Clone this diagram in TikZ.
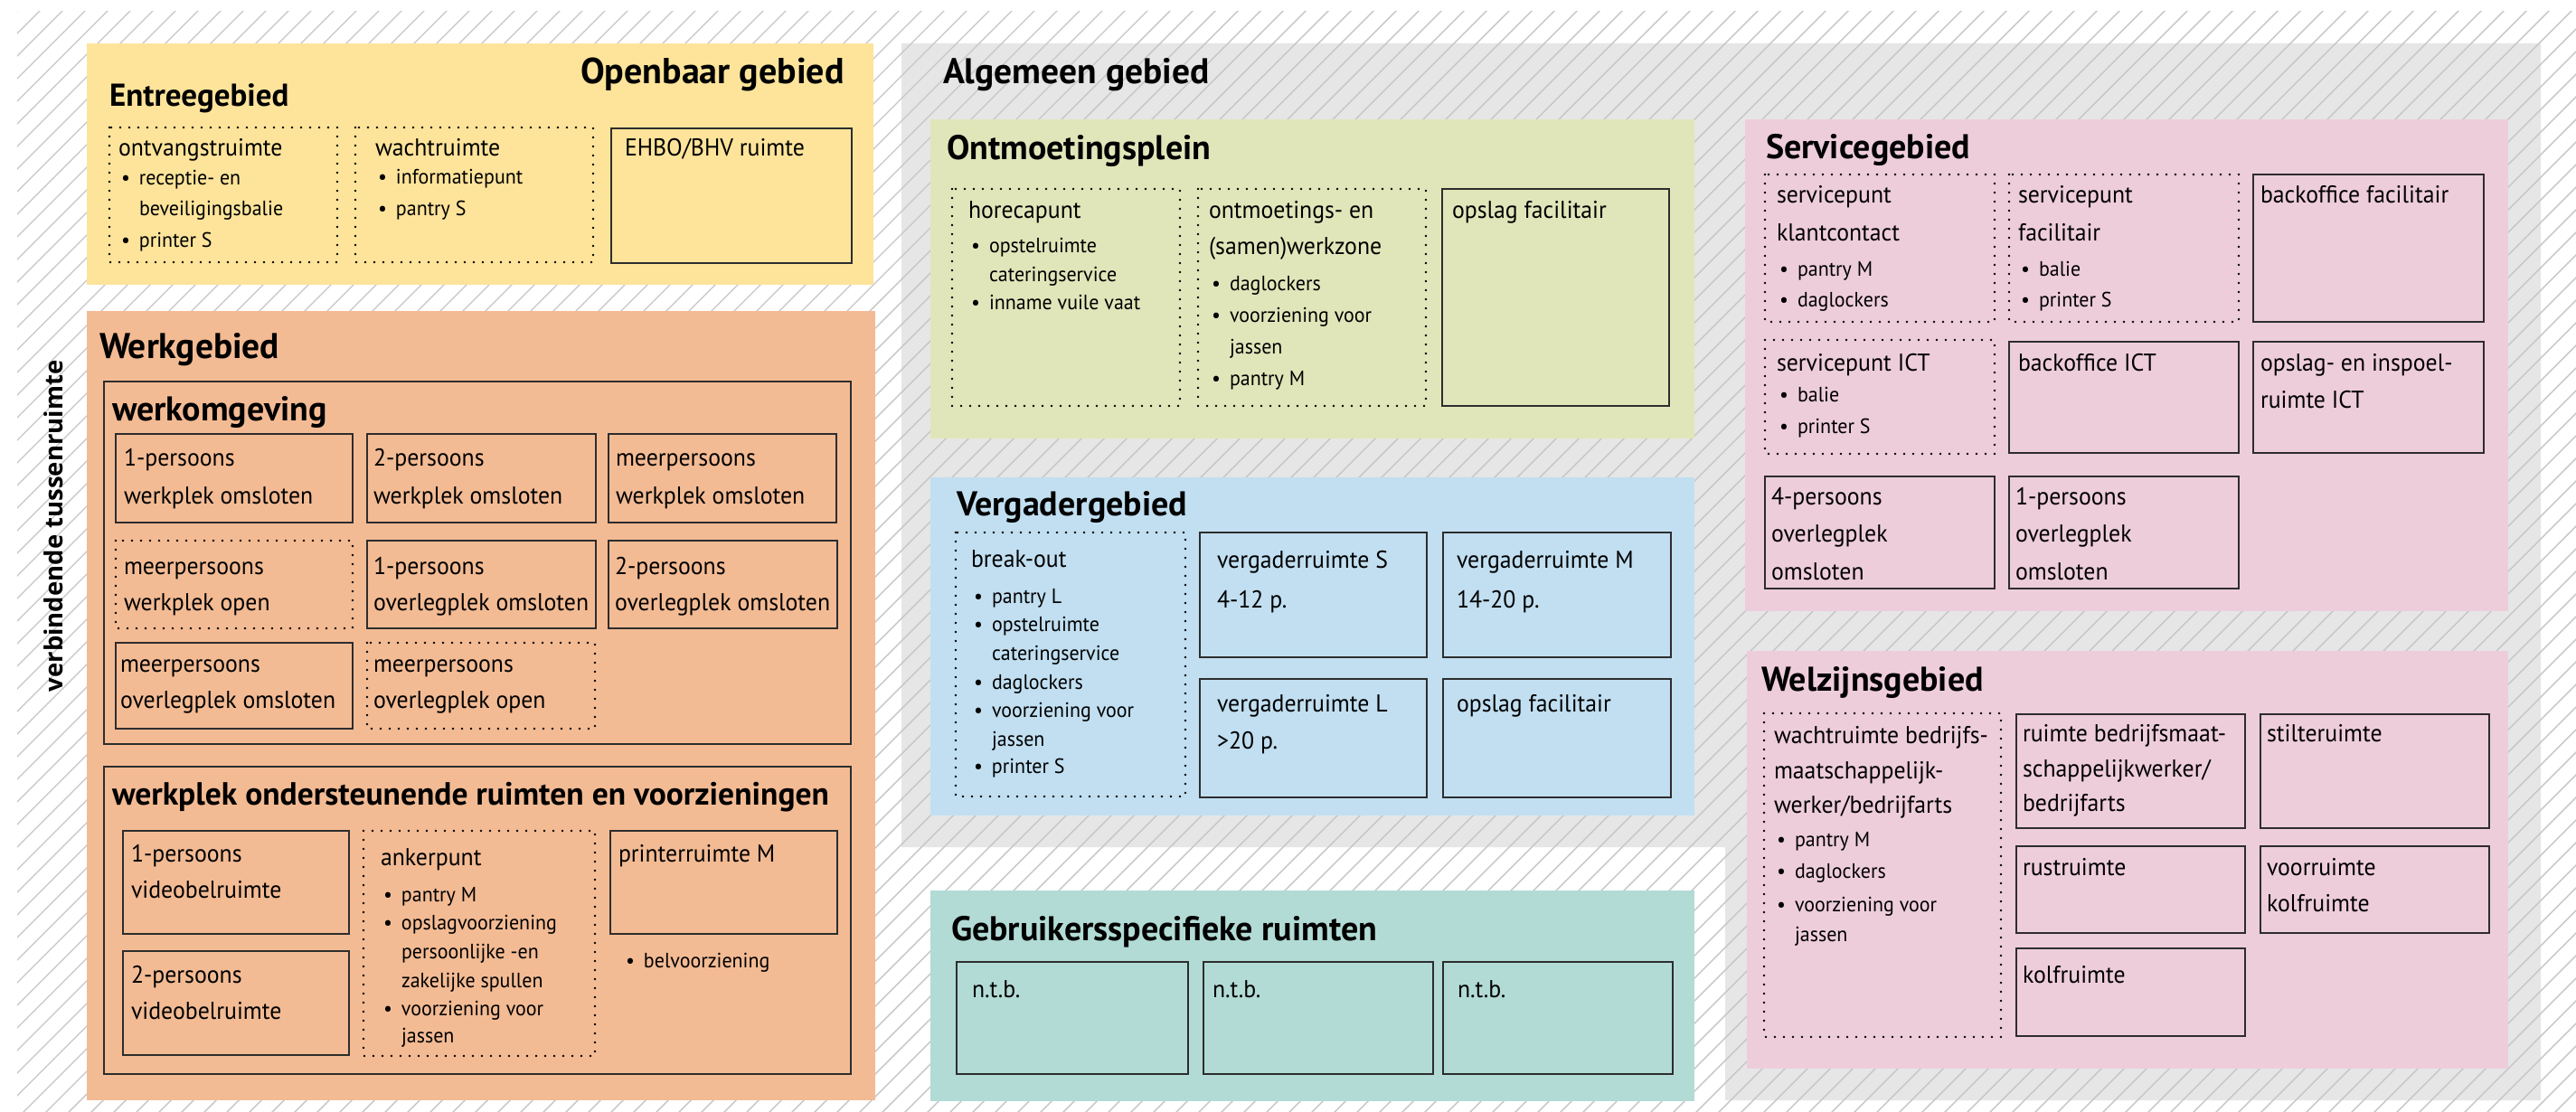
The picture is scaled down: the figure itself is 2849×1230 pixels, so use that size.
\documentclass[tikz,border=0pt]{standalone}
\usepackage{fontspec}
\setmainfont{PT Sans}
\newfontfamily\bodyfont{PT Sans}[FakeStretch=0.955]
\newfontfamily\labelfont{Open Sans}
\definecolor{cyel}{RGB}{253,228,154}
\definecolor{cora}{RGB}{243,187,148}
\definecolor{cgry}{RGB}{230,230,230}
\definecolor{cgrn}{RGB}{225,230,186}
\definecolor{cblu}{RGB}{193,223,241}
\definecolor{cteal}{RGB}{178,219,213}
\definecolor{cpink}{RGB}{238,205,219}
\definecolor{chatch}{RGB}{198,198,198}
\definecolor{cline}{RGB}{45,45,45}
\newcommand\Lines[1]{\vtop{\lineskiplimit=-1000pt\lineskip=0pt #1}}
\newcommand\Hd[2][41]{\baselineskip=#1pt\hbox{\bodyfont\fontsize{27}{27}\selectfont #2}}
\newcommand\Bu[2][33]{\baselineskip=#1pt\hbox{\bodyfont\fontsize{23}{23}\selectfont\kern3pt\hbox to 20pt{•\hss}#2}}
\newcommand\Bc[2][33]{\baselineskip=#1pt\hbox{\bodyfont\fontsize{23}{23}\selectfont\kern23pt #2}}
\tikzset{
  txt/.style={anchor=base west, inner sep=0pt, outer sep=0pt},
  hA/.style={txt, font=\bfseries\fontsize{39.5}{39.5}\selectfont},
  hB/.style={txt, font=\bfseries\fontsize{38}{38}\selectfont},
  hC/.style={txt, font=\bfseries\fontsize{35}{35}\selectfont},
  room/.style={draw=cline, line width=1.6pt},
  droom/.style={draw=black, line width=2.6pt, line cap=round, dash pattern=on 0pt off 10pt},
  hatch/.style={draw=chatch, line width=1.4pt},
}
\begin{document}
\begin{tikzpicture}[x=1pt,y=-1pt]
\useasboundingbox (0,0) rectangle (2849,1230);
\fill[white] (0,0) rectangle (2849,1230);
% grey general area (L-shape)
\fill[cgry] (997,48) -- (2810,48) -- (2810,1217) -- (1908,1217) -- (1908,937) -- (997,937) -- cycle;
% hatching
\begin{scope}
\clip (19,13) rectangle (2849,1230);
\foreach \c in {6,31,...,4131} \draw[hatch] (\c,0) -- ++(-1300,1300);
\end{scope}
% coloured panels
\fill[cyel] (96,48) rectangle (966,315);
\fill[cora] (96,344) rectangle (968,1217);
\fill[cgrn] (1029,132) rectangle (1874,485);
\fill[cblu] (1029,528) rectangle (1874,902);
\fill[cteal] (1029,985) rectangle (1874,1218);
\fill[cpink] (1930,132) rectangle (2774,676);
\fill[cpink] (1932,720) rectangle (2774,1182);

% side label
\node[anchor=base, rotate=90, inner sep=0pt, font=\labelfont\bfseries\fontsize{27.5}{27.5}\selectfont] (lbl) at (69,582) {verbindende tussenruimte};

% ---------- Openbaar gebied ----------
\node[anchor=base east, inner sep=0pt, font=\bfseries\fontsize{40}{40}\selectfont] (h-open) at (934,93) {Openbaar gebied};
\node[hC] (h-entree) at (121,118) {Entreegebied};
\draw[droom] (121,141) rectangle (373,290);
\draw[droom] (393,141) rectangle (656,290);
\draw[room] (676,142) rectangle (942,291);
\node[txt] (t-ontv) at (131,173) {\Lines{\Hd{ontvangstruimte}\Bu[32]{receptie- en}\Bc[34]{beveiligingsbalie}\Bu[35]{printer S}}};
\node[txt] (t-wacht) at (415,173) {\Lines{\Hd{wachtruimte}\Bu[31]{informatiepunt}\Bu[35]{pantry S}}};
\node[txt] (t-ehbo) at (691,173) {\Lines{\Hd{EHBO/BHV ruimte}}};

% ---------- Werkgebied ----------
\node[hA] (h-werk) at (110,397) {Werkgebied};
\draw[room] (115,422) rectangle (941,823);
\node[hB] (h-werkomg) at (124,465) {werkomgeving};
\draw[room] (128,480) rectangle (390,578);
\draw[room] (406,480) rectangle (659,578);
\draw[room] (673,480) rectangle (925,578);
\node[txt] (t-w1) at (137,515) {\Lines{\Hd{1-persoons}\Hd[42]{werkplek omsloten}}};
\node[txt] (t-w2) at (413,515) {\Lines{\Hd{2-persoons}\Hd[42]{werkplek omsloten}}};
\node[txt] (t-w3) at (681,515) {\Lines{\Hd{meerpersoons}\Hd[42]{werkplek omsloten}}};
\draw[droom] (128,598) rectangle (390,695);
\draw[room] (406,598) rectangle (659,695);
\draw[room] (673,598) rectangle (926,695);
\node[txt] (t-w4) at (137,635) {\Lines{\Hd{meerpersoons}\Hd[40]{werkplek open}}};
\node[txt] (t-w5) at (413,635) {\Lines{\Hd{1-persoons}\Hd[40]{overlegplek omsloten}}};
\node[txt] (t-w6) at (680,635) {\Lines{\Hd{2-persoons}\Hd[40]{overlegplek omsloten}}};
\draw[room] (128,711) rectangle (390,806);
\draw[droom] (406,711) rectangle (658,806);
\node[txt] (t-w7) at (133,743) {\Lines{\Hd{meerpersoons}\Hd[40]{overlegplek omsloten}}};
\node[txt] (t-w8) at (413,743) {\Lines{\Hd{meerpersoons}\Hd[40]{overlegplek open}}};

\draw[room] (115,848) rectangle (941,1188);
\node[txt, font=\bfseries\fontsize{35.5}{35.5}\selectfont] (h-onderst) at (124,890) {werkplek ondersteunende ruimten en voorzieningen};
\draw[room] (136,919) rectangle (386,1033);
\draw[room] (136,1052) rectangle (386,1167);
\draw[droom] (402,919) rectangle (658,1168);
\draw[room] (675,919) rectangle (926,1033);
\node[txt] (t-vb1) at (145,953) {\Lines{\Hd{1-persoons}\Hd[40]{videobelruimte}}};
\node[txt] (t-vb2) at (145,1087) {\Lines{\Hd{2-persoons}\Hd[40]{videobelruimte}}};
\node[txt] (t-anker) at (421,957) {\Lines{\Hd{ankerpunt}\Bu[40]{pantry M}\Bu[31]{opslagvoorziening}\Bc[32]{persoonlijke -en}\Bc[32]{zakelijke spullen}\Bu[31]{voorziening voor}\Bc[30]{jassen}}};
\node[txt] (t-printer) at (684,953) {\Lines{\Hd{printerruimte M}}};
\node[txt] (t-bel) at (689,1070) {\Lines{\Bu{belvoorziening}}};

% ---------- Algemeen gebied ----------
\node[txt, font=\bfseries\fontsize{39.5}{39.5}\selectfont] (h-alg) at (1043,93) {Algemeen gebied};
\node[hB] (h-ontm) at (1047,177) {Ontmoetingsplein};
\draw[droom] (1053,209) rectangle (1305,449);
\draw[droom] (1325,209) rectangle (1577,449);
\draw[room] (1595,209) rectangle (1846,449);
\node[txt] (t-horeca) at (1071,242) {\Lines{\Hd{horecapunt}\Bu[38]{opstelruimte}\Bc[32]{cateringservice}\Bu[31]{inname vuile vaat}}};
\node[txt] (t-ontmz) at (1337,242) {\Lines{\Hd{ontmoetings- en}\Hd[40]{(samen)werkzone}\Bu[40]{daglockers}\Bu[35]{voorziening voor}\Bc[35]{jassen}\Bu[35]{pantry M}}};
\node[txt] (t-opslag1) at (1606,242) {\Lines{\Hd{opslag facilitair}}};

\node[hB] (h-verg) at (1058,570) {Vergadergebied};
\draw[droom] (1057,589) rectangle (1311,881);
\draw[room] (1327,589) rectangle (1578,727);
\draw[room] (1596,589) rectangle (1848,727);
\draw[room] (1327,751) rectangle (1578,882);
\draw[room] (1596,751) rectangle (1848,882);
\node[txt] (t-break) at (1074,627) {\Lines{\Hd{break-out}\Bu[40]{pantry L}\Bu[31]{opstelruimte}\Bc[32]{cateringservice}\Bu[32]{daglockers}\Bu[31]{voorziening voor}\Bc[32]{jassen}\Bu[30]{printer S}}};
\node[txt] (t-vS) at (1346,628) {\Lines{\Hd{vergaderruimte S}\Hd[44]{4-12 p.}}};
\node[txt] (t-vM) at (1611,628) {\Lines{\Hd{vergaderruimte M}\Hd[44]{14-20 p.}}};
\node[txt] (t-vL) at (1346,787) {\Lines{\Hd{vergaderruimte L}\Hd[41]{>20 p.}}};
\node[txt] (t-opslag2) at (1611,787) {\Lines{\Hd{opslag facilitair}}};

\node[hB] (h-gebr) at (1052,1040) {Gebruikersspecifieke ruimten};
\draw[room] (1058,1064) rectangle (1314,1188);
\draw[room] (1331,1064) rectangle (1585,1188);
\draw[room] (1596,1064) rectangle (1850,1188);
\node[txt] (t-ntb1) at (1075,1103) {\Lines{\Hd{n.t.b.}}};
\node[txt] (t-ntb2) at (1341,1103) {\Lines{\Hd{n.t.b.}}};
\node[txt] (t-ntb3) at (1612,1103) {\Lines{\Hd{n.t.b.}}};

% ---------- Servicegebied ----------
\node[hB] (h-serv) at (1953,176) {Servicegebied};
\draw[droom] (1952,193) rectangle (2206,356);
\draw[droom] (2222,193) rectangle (2476,356);
\draw[room] (2492,193) rectangle (2747,356);
\node[txt] (t-spk) at (1965,225) {\Lines{\Hd{servicepunt}\Hd[42]{klantcontact}\Bu[39]{pantry M}\Bu[34]{daglockers}}};
\node[txt] (t-spf) at (2232,225) {\Lines{\Hd{servicepunt}\Hd[42]{facilitair}\Bu[39]{balie}\Bu[34]{printer S}}};
\node[txt] (t-bof) at (2500,225) {\Lines{\Hd{backoffice facilitair}}};
\draw[droom] (1952,376) rectangle (2206,502);
\draw[room] (2222,378) rectangle (2476,501);
\draw[room] (2492,378) rectangle (2747,501);
\node[txt] (t-spict) at (1965,411) {\Lines{\Hd{servicepunt ICT}\Bu[34]{balie}\Bu[35]{printer S}}};
\node[txt] (t-boict) at (2232,411) {\Lines{\Hd{backoffice ICT}}};
\node[txt] (t-inspoel) at (2500,411) {\Lines{\Hd{opslag- en inspoel-}\Hd[40]{ruimte ICT}}};
\draw[room] (1952,527) rectangle (2206,651);
\draw[room] (2222,527) rectangle (2476,651);
\node[txt] (t-4p) at (1959,558) {\Lines{\Hd{4-persoons}\Hd[41.5]{overlegplek}\Hd[41.5]{omsloten}}};
\node[txt] (t-1p) at (2229,558) {\Lines{\Hd{1-persoons}\Hd[41.5]{overlegplek}\Hd[41.5]{omsloten}}};

% ---------- Welzijnsgebied ----------
\node[hB] (h-welz) at (1948,764) {Welzijnsgebied};
\draw[droom] (1951,789) rectangle (2213,1147);
\draw[room] (2230,790) rectangle (2483,916);
\draw[room] (2500,790) rectangle (2753,916);
\draw[room] (2230,936) rectangle (2483,1032);
\draw[room] (2500,936) rectangle (2753,1032);
\draw[room] (2230,1049) rectangle (2483,1146);
\node[txt] (t-wbm) at (1962,822) {\Lines{\Hd{wachtruimte bedrijfs-}\Hd[39]{maatschappelijk-}\Hd[38]{werker/bedrijfarts}\Bu[37]{pantry M}\Bu[35]{daglockers}\Bu[37]{voorziening voor}\Bc[33]{jassen}}};
\node[txt] (t-rbm) at (2237,820) {\Lines{\Hd{ruimte bedrijfsmaat-}\Hd[39]{schappelijkwerker/}\Hd[38]{bedrijfarts}}};
\node[txt] (t-stilte) at (2507,820) {\Lines{\Hd{stilteruimte}}};
\node[txt] (t-rust) at (2237,968) {\Lines{\Hd{rustruimte}}};
\node[txt] (t-voorr) at (2507,968) {\Lines{\Hd{voorruimte}\Hd[40]{kolfruimte}}};
\node[txt] (t-kolf) at (2237,1087) {\Lines{\Hd{kolfruimte}}};
\end{tikzpicture}
\end{document}
